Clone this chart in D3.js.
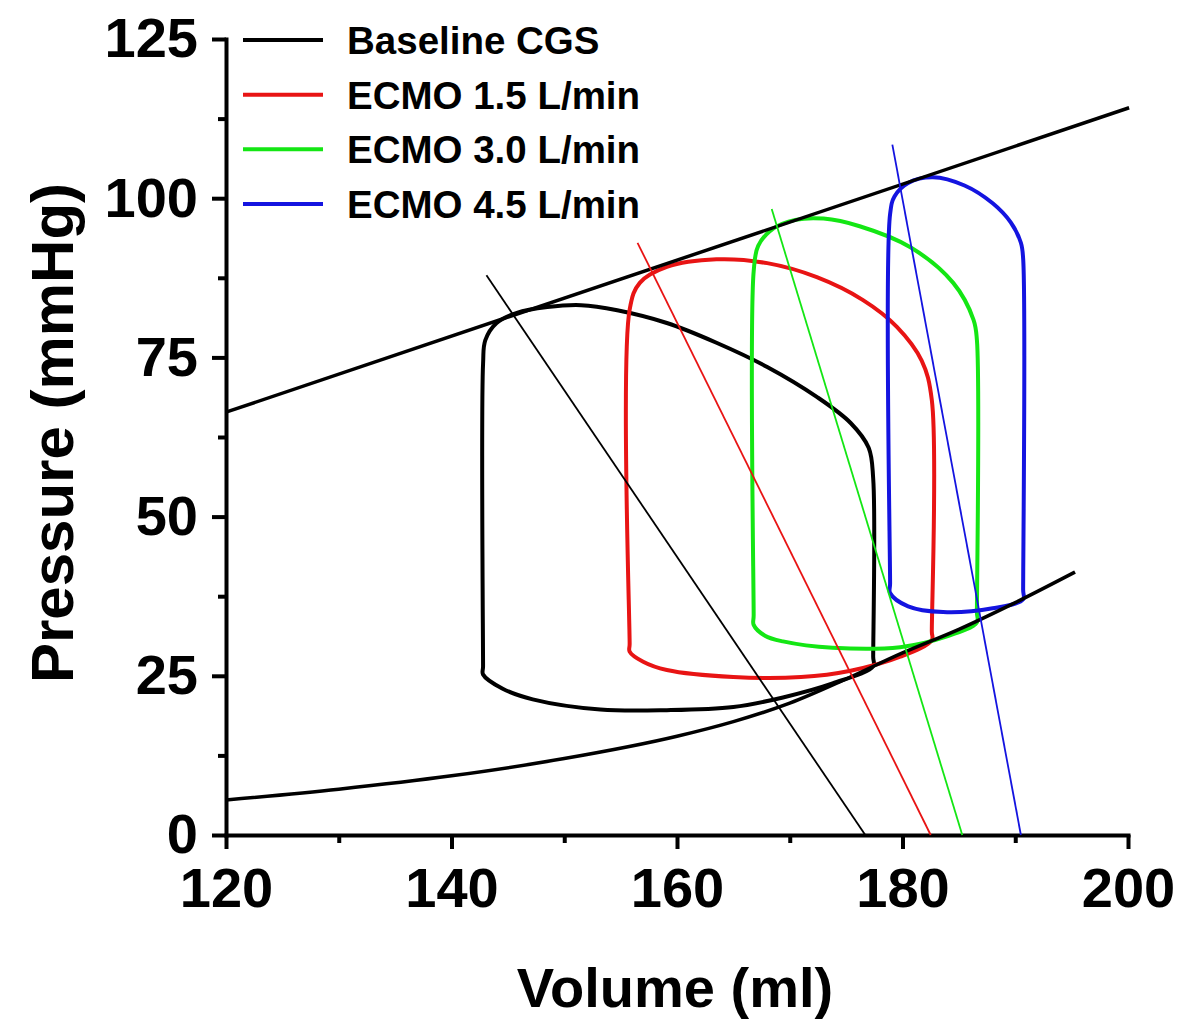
<!DOCTYPE html>
<html>
<head>
<meta charset="utf-8">
<script src="https://cdn.jsdelivr.net/npm/d3@7"></script>
<style>
  body { margin: 0; background: #fff; }
  svg { display: block; font-family: "Liberation Sans", Arial, sans-serif; font-weight: bold; }
</style>
</head>
<body>
<svg id="chart"></svg>
<script>
// Series
const seriesNames = ["Baseline CGS", "ECMO 1.5 L/min", "ECMO 3.0 L/min", "ECMO 4.5 L/min"];
const seriesColors = ["#000000", "#e81414", "#14e614", "#1414e0"];

// PV loops, [volume ml, pressure mmHg]
const baselineLoop = [
  [177.4, 26.5], [177.4, 28.0], [177.4, 56.0], [177.0, 60.8], [175.4, 64.7], [172.4, 68.8],
  [168.0, 73.5], [163.5, 77.3], [159.1, 80.4], [154.7, 82.4], [151.5, 83.2], [148.5, 82.9],
  [145.8, 82.0], [144.0, 80.4], [143.0, 77.7], [142.8, 74.0], [142.8, 26.5], [142.8, 25.2],
  [144.5, 23.0], [147.2, 21.3], [153.2, 19.7], [159.1, 19.6], [165.0, 20.1], [169.4, 21.6],
  [173.8, 23.8]
];
const ecmo15Loop = [
  [182.6, 30.6], [182.6, 32.0], [182.6, 68.3], [181.7, 74.5], [179.5, 79.8], [176.5, 84.0],
  [172.4, 87.6], [168.0, 89.8], [163.5, 90.4], [159.1, 89.2], [156.7, 86.7], [155.8, 82.5],
  [155.8, 30.0], [155.8, 28.8], [157.0, 27.2], [159.1, 25.9], [165.0, 24.8], [171.0, 24.8],
  [175.4, 25.8], [179.8, 28.0]
];
const ecmo30Loop = [
  [186.6, 33.4], [186.6, 35.0], [186.6, 77.7], [186.3, 80.9], [184.5, 86.7], [180.7, 92.3],
  [176.2, 95.6], [173.0, 96.8], [170.5, 96.6], [168.5, 95.2], [167.2, 92.5], [166.8, 88.5],
  [166.8, 34.5], [166.8, 33.0], [167.8, 31.3], [169.4, 30.4], [173.8, 29.4], [179.8, 29.5],
  [183.8, 31.1]
];
const ecmo45Loop = [
  [190.7, 37.0], [190.7, 38.5], [190.7, 90.5], [190.5, 93.0], [189.6, 96.2], [188.0, 99.2],
  [185.5, 102.0], [182.7, 103.3], [180.5, 102.4], [179.3, 100.3], [178.9, 97.5], [178.9, 39.5],
  [178.9, 38.0], [180.5, 35.9], [183.6, 35.0], [188.0, 35.6]
];
const loops = [baselineLoop, ecmo15Loop, ecmo30Loop, ecmo45Loop];

// thin end-systolic lines, top point then axis crossing
const esLines = [
  [[143.1, 87.9], [176.7, 0]],
  [[156.5, 93.0], [182.5, 0]],
  [[168.4, 98.3], [185.3, 0]],
  [[179.1, 108.4], [190.5, 0]]
];

// end-diastolic curve and upper boundary line
const edpvr = [
  [120, 5.5], [130, 7.2], [140, 9.3], [150, 12.0], [160, 15.5], [165, 17.8], [170, 20.7],
  [175, 24.5], [180, 28.6], [185, 32.3], [190, 36.5], [195.3, 41.3]
];
const upperLine = [[120, 66.4], [200.1, 114.2]];

// Ticks
const xTicks = [120, 140, 160, 180, 200];
const xMinor = [130, 150, 170, 190];
const yTicks = [0, 25, 50, 75, 100, 125];
const yMinor = [12.5, 37.5, 62.5, 87.5, 112.5];

const width = 1184, height = 1027;
const svg = d3.select("#chart").attr("width", width).attr("height", height);

const x = d3.scaleLinear().domain([120, 200]).range([226, 1128]);
const y = d3.scaleLinear().domain([0, 125]).range([835, 39]);

// Axes
function styleAxis(g) {
  g.attr("font-family", null).attr("font-size", null);
  g.selectAll("path, line").attr("stroke", "#000").attr("stroke-width", 4);
  g.select(".domain").attr("stroke-linecap", "square");
  g.selectAll("text").style("font-size", "56px").style("font-weight", "bold");
}

svg.append("g")
  .attr("transform", `translate(0,${y(0)})`)
  .call(d3.axisBottom(x).tickValues(xMinor).tickSize(8).tickSizeOuter(0).tickFormat(""))
  .call(g => { g.select(".domain").remove(); g.selectAll("line").attr("stroke-width", 4); });

svg.append("g")
  .attr("transform", `translate(0,${y(0)})`)
  .call(d3.axisBottom(x).tickValues(xTicks).tickSize(14).tickSizeOuter(0).tickPadding(18))
  .call(styleAxis);

svg.append("g")
  .attr("transform", `translate(${x(120)},0)`)
  .call(d3.axisLeft(y).tickValues(yMinor).tickSize(8).tickSizeOuter(0).tickFormat(""))
  .call(g => { g.select(".domain").remove(); g.selectAll("line").attr("stroke-width", 4); });

svg.append("g")
  .attr("transform", `translate(${x(120)},0)`)
  .call(d3.axisLeft(y).tickValues(yTicks).tickSize(14).tickSizeOuter(0).tickPadding(14))
  .call(styleAxis);

// Axis titles
svg.append("text")
  .attr("x", 675).attr("y", 1007)
  .attr("text-anchor", "middle")
  .style("font-size", "56px")
  .text("Volume (ml)");

svg.append("text")
  .attr("transform", "translate(73,433) rotate(-90)")
  .attr("text-anchor", "middle")
  .style("font-size", "60px")
  .text("Pressure (mmHg)");

// Curves
const plot = svg.append("g");

const loopLine = d3.line()
  .x(d => x(d[0])).y(d => y(d[1]))
  .curve(d3.curveCatmullRomClosed.alpha(0.5));

plot.selectAll(".loop")
  .data(loops)
  .join("path")
  .attr("class", "loop")
  .attr("d", loopLine)
  .attr("fill", "none")
  .attr("stroke", (d, i) => seriesColors[i])
  .attr("stroke-width", 4)
  .attr("stroke-linejoin", "round");

const smooth = d3.line().x(d => x(d[0])).y(d => y(d[1])).curve(d3.curveMonotoneX);

plot.append("path")
  .attr("d", smooth(edpvr))
  .attr("fill", "none").attr("stroke", "#000").attr("stroke-width", 3.5);

plot.append("path")
  .attr("d", smooth(upperLine))
  .attr("fill", "none").attr("stroke", "#000").attr("stroke-width", 3.5);

const straight = d3.line().x(d => x(d[0])).y(d => y(d[1]));

plot.selectAll(".es")
  .data(esLines)
  .join("path")
  .attr("class", "es")
  .attr("d", straight)
  .attr("fill", "none")
  .attr("stroke", (d, i) => seriesColors[i])
  .attr("stroke-width", 1.8);

// Legend
const legend = svg.append("g");
const rowY = d3.scalePoint().domain(seriesNames).range([40, 204]);

legend.selectAll("line")
  .data(seriesNames)
  .join("line")
  .attr("x1", 243).attr("x2", 323)
  .attr("y1", d => rowY(d)).attr("y2", d => rowY(d))
  .attr("stroke", (d, i) => seriesColors[i])
  .attr("stroke-width", 4);

legend.selectAll("text")
  .data(seriesNames)
  .join("text")
  .attr("x", 347)
  .attr("y", d => rowY(d))
  .attr("dy", "0.36em")
  .style("font-size", "38.5px")
  .text(d => d);
</script>
</body>
</html>
